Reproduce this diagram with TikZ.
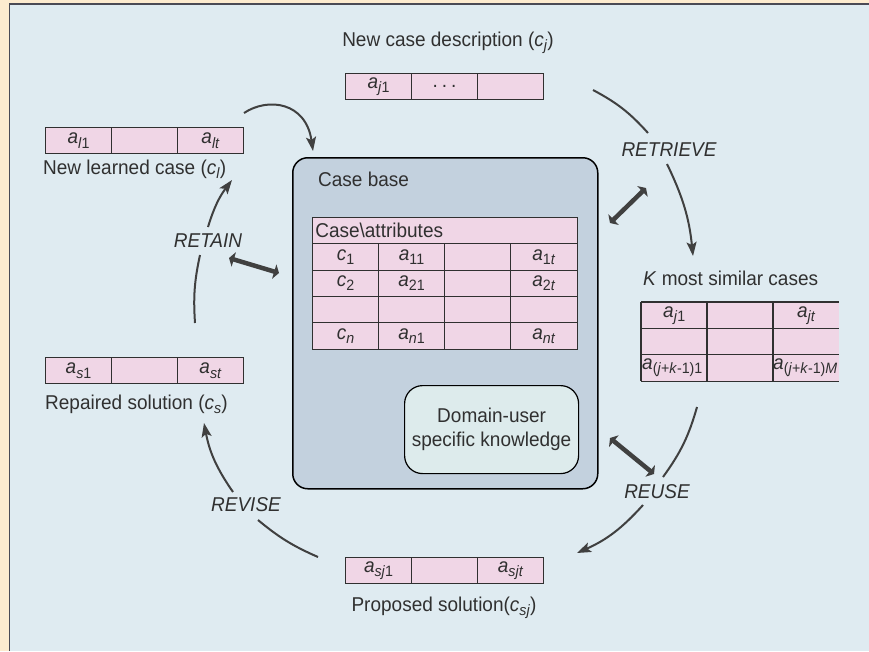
\documentclass[tikz,border=0pt]{standalone}
\usepackage{fontspec}
\setmainfont{Liberation Sans}[FakeStretch=0.95]
\usetikzlibrary{arrows.meta}

\definecolor{peach}{HTML}{FDEBCF}
\definecolor{panel}{HTML}{DFEBF1}
\definecolor{basefill}{HTML}{C3D1DE}
\definecolor{cellfill}{HTML}{F0D6E6}
\definecolor{domfill}{HTML}{DDEBEC}
\definecolor{ink}{HTML}{303030}
\definecolor{arrowc}{HTML}{404040}
\definecolor{framec}{HTML}{4A4A55}

% lowered index in the running sans font
\newcommand\subx[1]{\raisebox{-0.4ex}{\fontsize{15}{15}\selectfont #1}}
\newcommand\ita[2]{\textit{#1}\subx{#2}}

\begin{document}
\begin{tikzpicture}[x=1pt,y=-1pt,
  txt/.style={font=\fontsize{20}{24}\selectfont, text=ink, inner sep=0pt},
  cell/.style={txt, draw=ink, line width=1.1pt, fill=cellfill,
    minimum width=66pt, minimum height=26.3pt, anchor=north west},
  kcell/.style={txt, fill=cellfill, minimum width=66pt,
    minimum height=26.3pt, anchor=north west},
  grid/.style={draw=ink, line width=1.1pt},
  flow/.style={draw=arrowc, line width=2pt,
    -{Stealth[length=14pt,width=10pt,inset=3pt]}},
  flowplain/.style={draw=arrowc, line width=2pt},
  link/.style={draw=arrowc, line width=4.5pt,
    {Triangle[length=5pt,width=15pt]}-{Triangle[length=5pt,width=15pt]}},
  stage/.style={txt, font=\fontsize{20}{24}\selectfont\itshape},
]
\useasboundingbox (0,0) rectangle (869,651);

% page background and panel
\fill[peach] (0,0) rectangle (869,651);
\fill[panel] (9.5,4) rectangle (869,651);
\draw[framec, line width=1.5pt] (9.5,651) -- (9.5,4) -- (869,4);

% new case description
\node[txt] (nctitle) at (448,43) {New case description (\ita{c}{\textit{j}})};
\node[cell] (nc1) at (345,73) {\ita{a}{\textit{j}1}};
\node[cell] (nc2) at (411,73) {.\kern4pt.\kern4pt.};
\node[cell] (nc3) at (477,73) {};

% new learned case
\node[cell] (lc1) at (45,127) {\ita{a}{\textit{l}1}};
\node[cell] (lc2) at (111,127) {};
\node[cell] (lc3) at (177,127) {\ita{a}{\textit{lt}}};
\node[txt, anchor=west] (lctitle) at (43,169) {New learned case (\ita{c}{\textit{l}})};

% repaired solution
\node[cell] (rs1) at (45,357) {\ita{a}{\textit{s}1}};
\node[cell] (rs2) at (111,357) {};
\node[cell] (rs3) at (177,357) {\ita{a}{\textit{st}}};
\node[txt, anchor=west] (rstitle) at (45,404) {Repaired solution (\ita{c}{\textit{s}})};

% proposed solution
\node[cell] (ps1) at (345,557) {\ita{a}{\textit{sj}1}};
\node[cell] (ps2) at (411,557) {};
\node[cell] (ps3) at (477,557) {\ita{a}{\textit{sjt}}};
\node[txt] (pstitle) at (444,608) {Proposed solution(\ita{c}{\textit{sj}})};

% case base
\node[draw=black, line width=1.5pt, fill=basefill, rounded corners=15pt,
  minimum width=305pt, minimum height=331pt, anchor=north west, inner sep=0pt]
  (cb) at (292,157) {};
\node[txt, anchor=west] (cbtitle) at (318,179) {Case base};

\node[cell, minimum width=264.5pt, text width=259pt, align=left, inner xsep=2pt]
  (hd) at (312,217) {Case\textbackslash attributes};
\node[cell] (t11) at (312,243.3) {\ita{c}{1}};
\node[cell] (t12) at (378,243.3) {\ita{a}{11}};
\node[cell] (t13) at (444,243.3) {};
\node[cell, minimum width=66.5pt] (t14) at (510,243.3) {\ita{a}{1\textit{t}}};
\node[cell] (t21) at (312,269.6) {\ita{c}{2}};
\node[cell] (t22) at (378,269.6) {\ita{a}{21}};
\node[cell] (t23) at (444,269.6) {};
\node[cell, minimum width=66.5pt] (t24) at (510,269.6) {\ita{a}{2\textit{t}}};
\node[cell] (t31) at (312,295.9) {};
\node[cell] (t32) at (378,295.9) {};
\node[cell] (t33) at (444,295.9) {};
\node[cell, minimum width=66.5pt] (t34) at (510,295.9) {};
\node[cell] (t41) at (312,322.2) {\ita{c}{\textit{n}}};
\node[cell] (t42) at (378,322.2) {\ita{a}{\textit{n}1}};
\node[cell] (t43) at (444,322.2) {};
\node[cell, minimum width=66.5pt] (t44) at (510,322.2) {\ita{a}{\textit{nt}}};

% domain knowledge
\node[draw=black, line width=1.2pt, fill=domfill, rounded corners=18pt,
  minimum width=174pt, minimum height=88pt, anchor=north west, inner sep=0pt]
  (dom) at (404,385) {};
\node[txt, align=center] (domtxt) at (dom.center) {Domain-user\\specific knowledge};

% k most similar cases
\node[txt, anchor=west] (ktitle) at (643,278) {\textit{K} most similar cases};
\node[kcell] (k11) at (641,302) {\ita{a}{\textit{j}1}};
\node[kcell] (k12) at (707,302) {};
\node[kcell] (k13) at (773,302) {\ita{a}{\textit{jt}}};
\node[kcell] (k21) at (641,328.3) {};
\node[kcell] (k22) at (707,328.3) {};
\node[kcell] (k23) at (773,328.3) {};
\node[kcell] (k31) at (641,354.6) {};
\node[kcell] (k32) at (707,354.6) {};
\node[kcell] (k33) at (773,354.6) {};
\node[txt, anchor=west] (k31t) at ([xshift=1pt]k31.west)
  {\ita{a}{(\textit{j}+\textit{k}-1)1}};
\node[txt, anchor=west] (k33t) at ([xshift=0pt]k33.west)
  {\ita{a}{(\textit{j}+\textit{k}-1)\textit{M}}};
\draw[grid] (k11.north west) -- (k13.north east);
\draw[grid] (k21.north west) -- (k23.north east);
\draw[grid] (k31.north west) -- (k33.north east);
\draw[grid] (k31.south west) -- (k33.south east);
\draw[grid, line width=1.7pt] (k11.north west) -- (k31.south west);
\draw[grid, line width=1.7pt] (k12.north west) -- (k32.south west);
\draw[grid, line width=1.7pt] (k13.north west) -- (k33.south west);

% stage labels
\node[stage] (retrieve) at (669,150) {RETRIEVE};
\node[stage] (reuse) at (657,492) {REUSE};
\node[stage] (revise) at (246,505) {REVISE};
\node[stage] (retain) at (208,241) {RETAIN};

% cycle arrows
\coordinate (h1) at (244,113);
\coordinate (h2) at (313,151);
\draw[flow] (h1) .. controls (268,97) and (306,102) .. (h2);

\coordinate (rt1) at (593,90);
\coordinate (rt2) at (648,133);
\coordinate (rt3) at (667,164);
\coordinate (rt4) at (693,256);
\draw[flowplain] (rt1) to[bend left=10] (rt2);
\draw[flow] (rt3) to[bend left=10] (rt4);

\coordinate (ru1) at (697,407);
\coordinate (ru2) at (663,477);
\coordinate (ru3) at (643,505);
\coordinate (ru4) at (577,553);
\draw[flowplain] (ru1) to[bend left=10] (ru2);
\draw[flow] (ru3) to[bend left=12] (ru4);

\coordinate (rv1) at (318,557);
\coordinate (rv2) at (258,520);
\coordinate (rv3) at (233,492);
\coordinate (rv4) at (204,423);
\draw[flowplain] (rv1) to[bend left=8] (rv2);
\draw[flow] (rv3) to[bend left=12] (rv4);

\coordinate (ra1) at (195,323);
\coordinate (ra2) at (200,255);
\coordinate (ra3) at (208,227);
\coordinate (ra4) at (232,180);
\draw[flowplain] (ra1) to[bend left=8] (ra2);
\draw[flow] (ra3) to[bend left=10] (ra4);

% exchanges with the case base
\coordinate (lr1) at (610,223);
\coordinate (lr2) at (646,188);
\draw[link] (lr1) -- (lr2);
\coordinate (ll1) at (229,258);
\coordinate (ll2) at (279,273);
\draw[link] (ll1) -- (ll2);
\coordinate (lu1) at (610,438);
\coordinate (lu2) at (654,474);
\draw[link] (lu1) -- (lu2);
\end{tikzpicture}
\end{document}
